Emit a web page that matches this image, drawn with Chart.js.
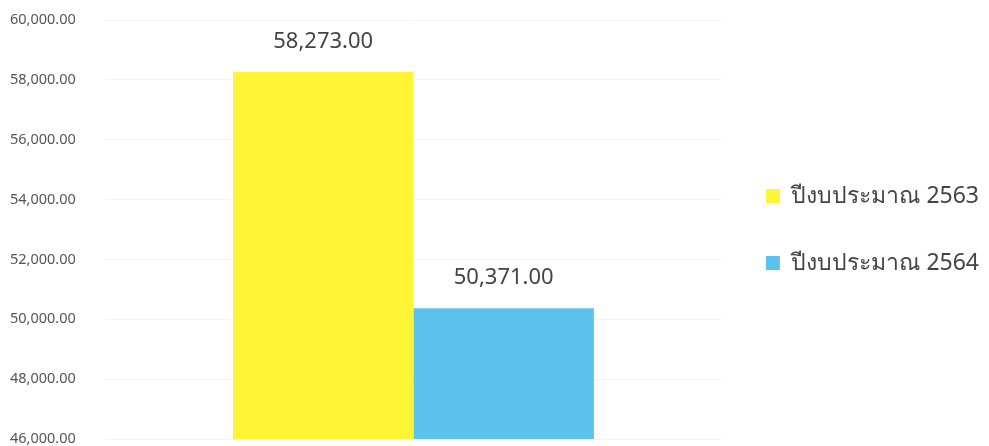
<!DOCTYPE html>
<html>
<head>
<meta charset="utf-8">
<script src="https://cdn.jsdelivr.net/npm/chart.js@4"></script>
<style>
  html, body { margin: 0; padding: 0; background: #fff; }
  #wrap { width: 989px; height: 446px; }
</style>
</head>
<body>
<div id="wrap"><canvas id="Presupuesto"></canvas></div>
<script>
// datos
const categorias = [""];
const series = ["ปีงบประมาณ 2563", "ปีงบประมาณ 2564"];
const valores2563 = [58273];
const valores2564 = [50371];
const colores = ["#FFF436", "#5BC2EE"];

const fmt = v => v.toLocaleString("en-US", { minimumFractionDigits: 2, maximumFractionDigits: 2 });

// etiquetas encima de las barras
const etiquetas = {
    id: "etiquetas",
    afterDatasetsDraw(chart) {
        const ctx = chart.ctx;
        ctx.save();
        ctx.font = "22px 'Noto Sans', sans-serif";
        ctx.fillStyle = "#444";
        ctx.textAlign = "center";
        ctx.textBaseline = "bottom";
        chart.data.datasets.forEach((ds, i) => {
            chart.getDatasetMeta(i).data.forEach((bar, j) => {
                ctx.fillText(fmt(ds.data[j]), bar.x, bar.y - 19);
            });
        });
        ctx.restore();
    }
};

new Chart("Presupuesto", {
    type: "bar",
    data: {
        labels: categorias,
        datasets: [
            { label: series[0], data: valores2563, backgroundColor: colores[0] },
            { label: series[1], data: valores2564, backgroundColor: colores[1] }
        ]
    },
    options: {
        responsive: true,
        maintainAspectRatio: false,
        animation: false,
        categoryPercentage: 0.585,
        barPercentage: 1,
        layout: { padding: { top: 20, bottom: 7, left: 10, right: 0 } },
        scales: {
            x: { display: false },
            y: {
                min: 46000,
                max: 60000,
                ticks: {
                    stepSize: 2000,
                    crossAlign: "far",
                    color: "#555",
                    font: { size: 14.5, family: "'Noto Sans', sans-serif" },
                    callback: v => fmt(v)
                },
                grid: { color: "#f1f5f5", drawTicks: false },
                border: { display: false },
                afterFit: axis => {
                    axis.width = 95;
                    axis.paddingTop = 0;
                    axis.paddingBottom = 0;
                }
            }
        },
        plugins: {
            legend: {
                position: "right",
                maxWidth: 400,
                labels: {
                    boxWidth: 14,
                    boxHeight: 14,
                    padding: 44,
                    color: "#444",
                    font: { size: 23, family: "'Noto Sans', sans-serif" }
                }
            },
            tooltip: { enabled: false }
        }
    },
    plugins: [etiquetas]
});
</script>
</body>
</html>
